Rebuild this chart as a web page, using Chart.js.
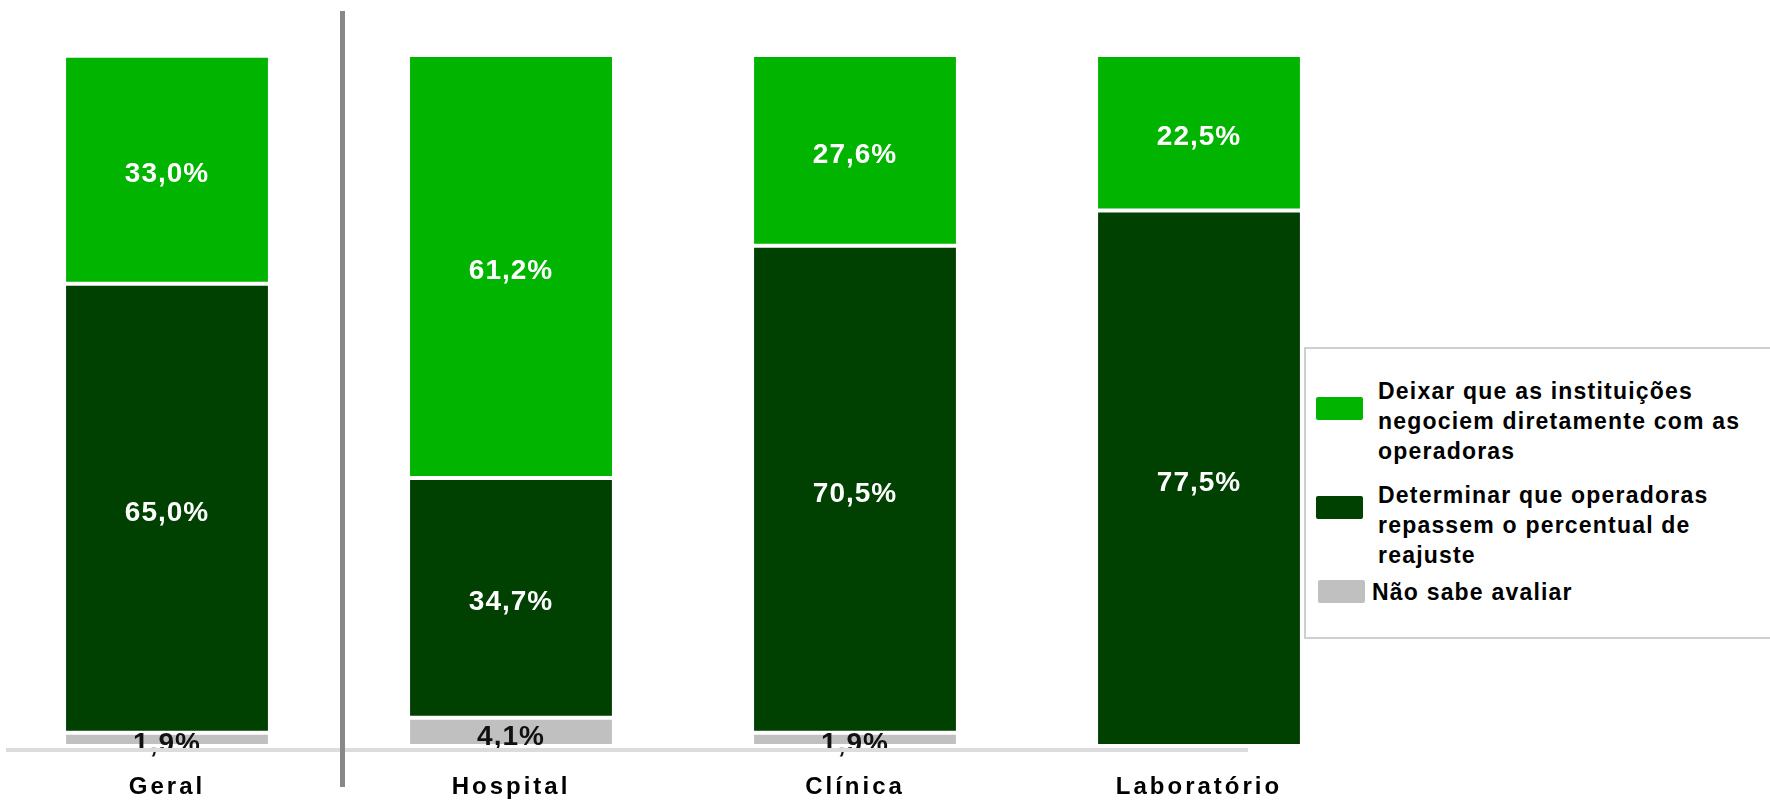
<!DOCTYPE html>
<html>
<head>
<meta charset="utf-8">
<script src="https://cdn.jsdelivr.net/npm/chart.js@4.4.1/dist/chart.umd.min.js"></script>
<style>
  html, body { margin: 0; padding: 0; background: #fff; width: 1770px; height: 800px; overflow: hidden; }
  #wrap { position: absolute; left: -5px; top: 0; width: 1376px; height: 800px; }
  #legend { position: absolute; left: 1304px; top: 347px; width: 520px; height: 288px;
            border: 2px solid #cfcfcf; border-right: none; background: #fff;
            font-family: "Liberation Sans", Arial, sans-serif; font-weight: bold; font-size: 23px;
            color: #000; letter-spacing: 1.2px; }
  .sw { position: absolute; width: 47px; height: 23px; border-radius: 2px; }
  .tx { position: absolute; line-height: 30px; white-space: nowrap; }
</style>
</head>
<body>
<div id="wrap"><canvas id="c" width="1376" height="800"></canvas></div>
<div id="legend"></div>
<script>
// ---- data ----
const categories = ["Geral", "Hospital", "Clínica", "Laboratório"];
const seriesNames = [
  "Deixar que as instituições negociem diretamente com as operadoras",
  "Determinar que operadoras repassem o percentual de reajuste",
  "Não sabe avaliar"
];
const negociarValues = [33.0, 61.2, 27.6, 22.5];
const repassarValues = [65.0, 34.7, 70.5, 77.5];
const naoSabeValues  = [1.9, 4.1, 1.9, 0];
const legendLines = [
  ["Deixar que as instituições", "negociem diretamente com as", "operadoras"],
  ["Determinar que operadoras", "repassem o percentual de", "reajuste"],
  ["Não sabe avaliar"]
];

const colLight = "#00b400";
const colDark = "#004000";
const colGray = "#c0c0c0";

const fmt = v => v.toFixed(1).replace(".", ",") + "%";

const labelPlugin = {
  id: "segLabels",
  afterDatasetsDraw(chart) {
    const ctx = chart.ctx;
    ctx.save();
    ctx.font = "bold 28px 'Liberation Sans', Arial, sans-serif";
    ctx.letterSpacing = "1px";
    ctx.textAlign = "center";
    ctx.textBaseline = "middle";
    chart.data.datasets.forEach((ds, di) => {
      const meta = chart.getDatasetMeta(di);
      meta.data.forEach((el, i) => {
        const v = ds.data[i];
        if (!v) return;
        const p = el.getCenterPoint();
        ctx.fillStyle = ds.labelColor;
        ctx.fillText(fmt(v), p.x, p.y + 5);
      });
    });
    // baseline strip
    const y0 = chart.scales.y.getPixelForValue(0);
    const xs = chart.scales.x;
    ctx.fillStyle = "#dcdcdc";
    ctx.fillRect(xs.left + 11, y0 + 2, 1242, 4);
    // separator between Geral and the others
    const sep = (xs.getPixelForValue(0) + xs.getPixelForValue(1)) / 2 + 1;
    ctx.fillStyle = "#888888";
    ctx.fillRect(sep, 11, 5, 776);
    ctx.restore();
  }
};

const spacingPlugin = {
  id: "tickSpacing",
  beforeDraw(chart) { chart.ctx.letterSpacing = "3px"; },
  afterDraw(chart) { chart.ctx.letterSpacing = "0px"; }
};

const common = {
  borderColor: "#ffffff",
  borderWidth: { top: 2, bottom: 2, left: 0, right: 0 },
  borderSkipped: false,
  categoryPercentage: 1.0,
  barPercentage: 0.587
};

new Chart(document.getElementById("c"), {
  type: "bar",
  data: {
    labels: categories,
    datasets: [
      Object.assign({ label: seriesNames[2], data: naoSabeValues, backgroundColor: colGray, labelColor: "#111111" }, common),
      Object.assign({ label: seriesNames[1], data: repassarValues, backgroundColor: colDark, labelColor: "#ffffff" }, common),
      Object.assign({ label: seriesNames[0], data: negociarValues, backgroundColor: colLight, labelColor: "#ffffff" }, common)
    ]
  },
  options: {
    responsive: false,
    animation: false,
    layout: { padding: { top: 55, bottom: 1, left: 0, right: 0 } },
    plugins: { legend: { display: false }, tooltip: { enabled: false } },
    scales: {
      x: {
        stacked: true,
        grid: { display: false, drawTicks: false },
        border: { display: false },
        afterFit(scale) { scale.height = 53; },
        ticks: {
          color: "#000",
          padding: 29,
          font: { family: "'Liberation Sans', Arial, sans-serif", size: 24, weight: "bold", lineHeight: 1 }
        }
      },
      y: { stacked: true, display: false, min: 0, max: 100 }
    }
  },
  plugins: [spacingPlugin, labelPlugin]
});

// ---- HTML legend ----
const lg = document.getElementById("legend");
const items = [
  { color: colLight, sw: [10, 48], tx: [72, 27], lines: legendLines[0] },
  { color: colDark,  sw: [10, 147], tx: [72, 131], lines: legendLines[1] },
  { color: colGray,  sw: [12, 231], tx: [66, 228], lines: legendLines[2] }
];
items.forEach(it => {
  const s = document.createElement("div");
  s.className = "sw";
  s.style.left = it.sw[0] + "px"; s.style.top = it.sw[1] + "px";
  s.style.background = it.color;
  lg.appendChild(s);
  const t = document.createElement("div");
  t.className = "tx";
  t.style.left = it.tx[0] + "px"; t.style.top = it.tx[1] + "px";
  t.innerHTML = it.lines.join("<br>");
  lg.appendChild(t);
});
</script>
</body>
</html>
